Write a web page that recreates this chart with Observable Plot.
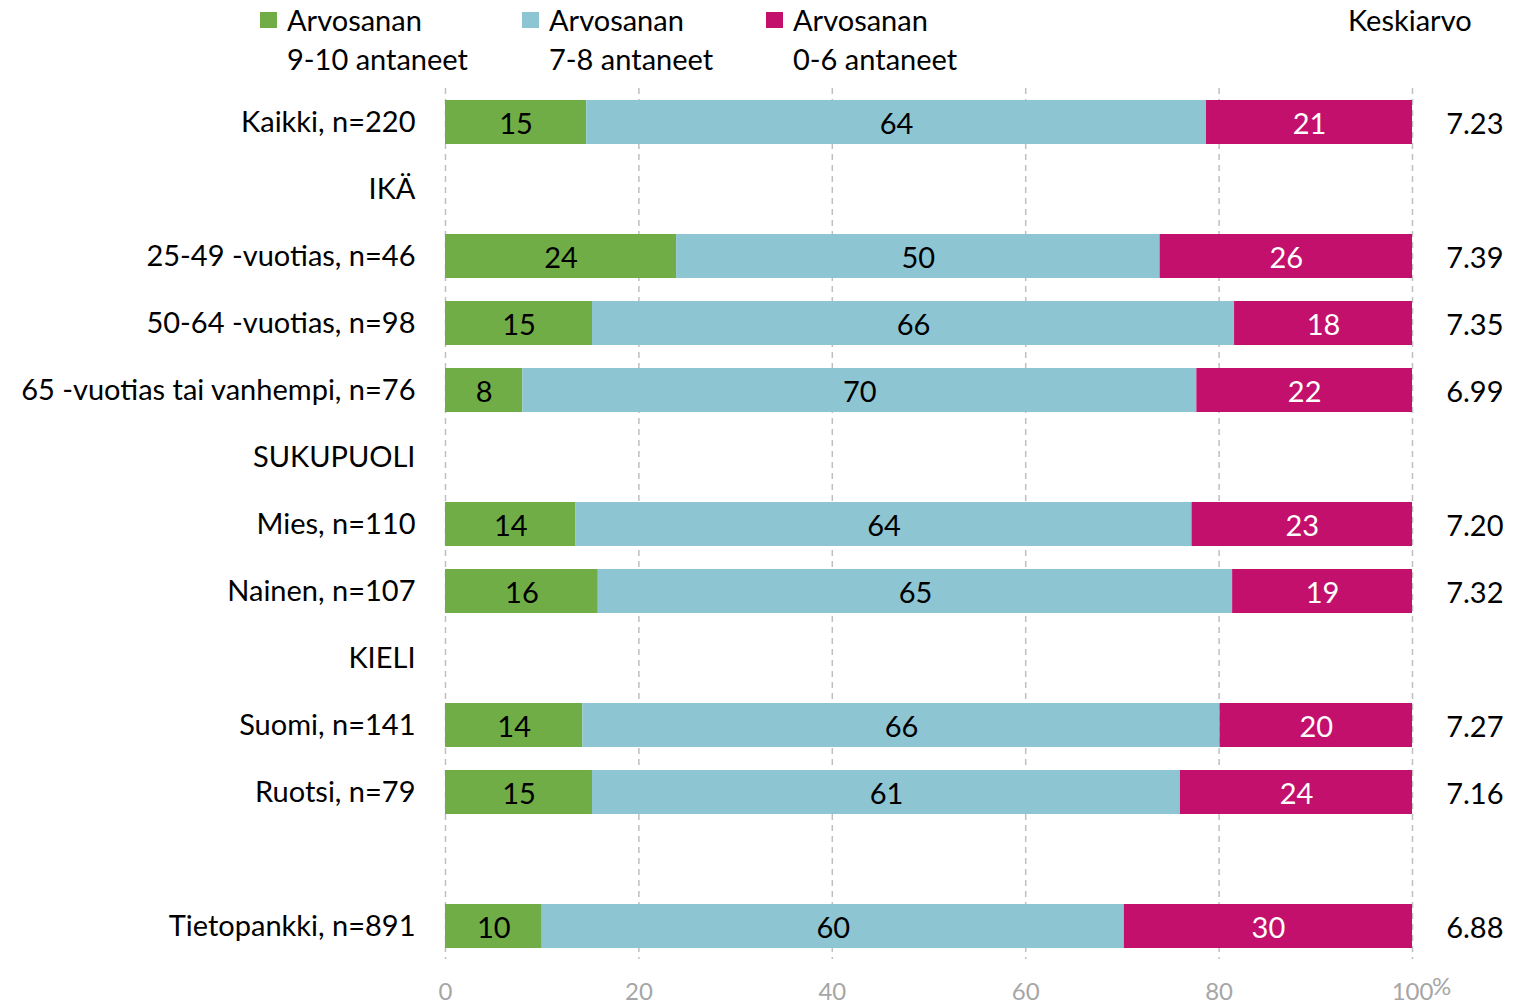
<!DOCTYPE html>
<html>
<head>
<meta charset="utf-8">
<script src="https://cdn.jsdelivr.net/npm/d3@7"></script>
<script src="https://cdn.jsdelivr.net/npm/@observablehq/plot@0.6"></script>
<style>
  html, body { margin: 0; padding: 0; background: #fff; }
  body { font-family: Lato, "Open Sans", sans-serif; width: 1540px; height: 1006px; overflow: hidden; }
  #legend { position: relative; width: 1540px; height: 88px; font-size: 29px; color: #000; }
  .sw { position: absolute; top: 12px; width: 17px; height: 16px; }
  .lt { position: absolute; top: 0px; line-height: 39px; white-space: nowrap; }
  #chart svg { display: block; }
</style>
</head>
<body>
<div id="legend"></div>
<div id="chart"></div>
<script>
// ---- data ----
const rows = ["Kaikki, n=220", "IKÄ", "25-49 -vuotias, n=46", "50-64 -vuotias, n=98",
  "65 -vuotias tai vanhempi, n=76", "SUKUPUOLI", "Mies, n=110", "Nainen, n=107",
  "KIELI", "Suomi, n=141", "Ruotsi, n=79", " ", "Tietopankki, n=891"];
const groups = ["Kaikki, n=220", "25-49 -vuotias, n=46", "50-64 -vuotias, n=98",
  "65 -vuotias tai vanhempi, n=76", "Mies, n=110", "Nainen, n=107",
  "Suomi, n=141", "Ruotsi, n=79", "Tietopankki, n=891"];
const categories = ["Arvosanan 9-10 antaneet", "Arvosanan 7-8 antaneet", "Arvosanan 0-6 antaneet"];
const legendLines = [["Arvosanan", "9-10 antaneet"], ["Arvosanan", "7-8 antaneet"], ["Arvosanan", "0-6 antaneet"]];
const high = [14.6, 23.9, 15.2, 8.0, 13.5, 15.8, 14.2, 15.2, 10.0];
const mid  = [64.1, 50.0, 66.4, 69.7, 63.7, 65.6, 65.9, 60.8, 60.2];
const low  = [21.3, 26.1, 18.4, 22.3, 22.8, 18.6, 19.9, 24.0, 29.8];
const labels = [[15,64,21],[24,50,26],[15,66,18],[8,70,22],[14,64,23],[16,65,19],[14,66,20],[15,61,24],[10,60,30]];
const keskiarvo = ["7.23", "7.39", "7.35", "6.99", "7.20", "7.32", "7.27", "7.16", "6.88"];
const avgTitle = "Keskiarvo";
const xTicks = [0, 20, 40, 60, 80, 100];
const colors = ["#70AD47", "#8DC5D3", "#C2106C"];
const textColors = ["#000000", "#000000", "#FFFFFF"];

// ---- table ----
const table = [];
groups.forEach((g, i) => {
  const vals = [high[i], mid[i], low[i]];
  let start = 0;
  vals.forEach((v, j) => {
    table.push({row: g, cat: categories[j], value: v, start, end: start + v, label: labels[i][j], tcolor: textColors[j]});
    start += v;
  });
});
const avgTable = groups.map((g, i) => ({row: g, avg: keskiarvo[i]}));

// ---- legend (HTML) ----
const legend = document.getElementById("legend");
const swX = [260, 522, 766];
categories.forEach((c, j) => {
  const s = document.createElement("div");
  s.className = "sw"; s.style.left = swX[j] + "px"; s.style.background = colors[j];
  legend.appendChild(s);
  const t = document.createElement("div");
  t.className = "lt"; t.style.left = (swX[j] + 27) + "px";
  t.innerHTML = legendLines[j].join("<br>");
  legend.appendChild(t);
});
const kt = document.createElement("div");
kt.className = "lt"; kt.style.left = "1348px"; kt.textContent = avgTitle;
legend.appendChild(kt);

// ---- chart ----
const chart = Plot.plot({
  width: 1540,
  height: 918,
  marginLeft: 445,
  marginRight: 128,
  marginTop: 0,
  marginBottom: 47,
  style: {fontFamily: "Lato, 'Open Sans', sans-serif", background: "white", color: "black"},
  x: {domain: [0, 100], axis: null},
  y: {domain: rows, range: [0.5, 871.5], paddingInner: 0.35, paddingOuter: 0.175, axis: null},
  color: {domain: categories, range: colors},
  marks: [
    Plot.ruleX(xTicks, {stroke: "#BFBFBF", strokeWidth: 1.5, strokeDasharray: "6,5"}),
    Plot.barX(table, {x1: "start", x2: "end", y: "row", fill: "cat"}),
    Plot.text(table, {x: d => (d.start + d.end) / 2, y: "row", text: "label", fill: "tcolor", fontSize: 29, dy: 2}),
    Plot.axisY({tickSize: 0, tickPadding: 30, fontSize: 29, textAnchor: "end", label: null}),
    Plot.text(avgTable, {y: "row", text: "avg", frameAnchor: "right", dx: 91, textAnchor: "end", fontSize: 29, fill: "black", dy: 2}),
    Plot.text(xTicks, {x: d => d, text: d => String(d), frameAnchor: "bottom", dy: 40, fontSize: 24, fill: "#A6A6A6"}),
    Plot.text(["%"], {x: () => 100, text: d => d, frameAnchor: "bottom", dy: 35, dx: 29, fontSize: 24, fill: "#A6A6A6"})
  ]
});
document.getElementById("chart").appendChild(chart);
</script>
</body>
</html>
